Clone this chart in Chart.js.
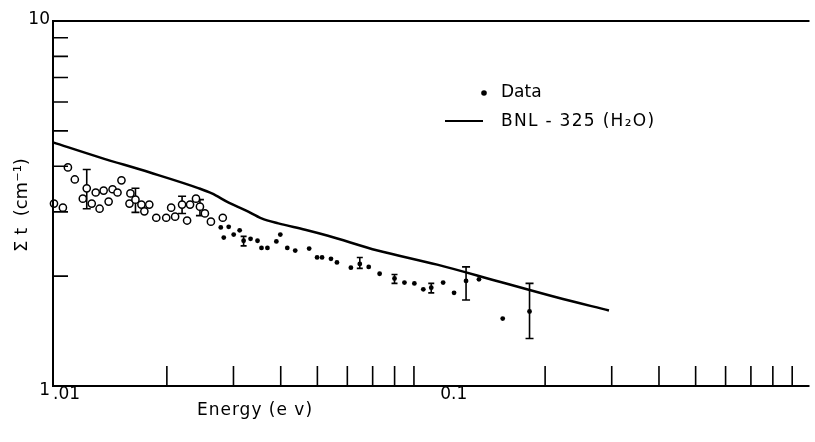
<!DOCTYPE html>
<html><head><meta charset="utf-8">
<script src="https://cdn.jsdelivr.net/npm/chart.js@4/dist/chart.umd.min.js"></script>
<style>html,body{margin:0;padding:0;background:#fff}#wrap{width:815px;height:442px;position:relative}</style>
</head><body><div id="wrap"><canvas id="c" width="815" height="442"></canvas></div>
<script>
// Hollow-circle measurements (low energy)
const openEnergy = [0.01095,0.01142,0.01228,0.01199,0.01006,0.01062,0.01266,0.01297,0.01328,0.01361,0.01403,0.01437,0.01481,0.01517,0.01602,0.01593,0.01652,0.01713,0.01744,0.01797,0.01875,0.01992,0.02103,0.02053,0.02194,0.02262,0.02303,0.02388,0.02446,0.02521,0.02615,0.02811];
const openSigma  = [3.97,3.68,3.48,3.26,3.16,3.08,3.16,3.39,3.06,3.43,3.20,3.46,3.39,3.66,3.37,3.16,3.24,3.14,3.01,3.14,2.89,2.89,2.91,3.08,3.14,2.84,3.14,3.26,3.10,2.97,2.82,2.89];
// Filled-dot measurements ("Data")
const dotEnergy = [0.02777,0.02914,0.02828,0.03004,0.03115,0.03191,0.03329,0.03473,0.03558,0.03689,0.03895,0.0399,0.04163,0.04369,0.04756,0.04991,0.05144,0.05431,0.05632,0.06131,0.06473,0.06834,0.07303,0.07996,0.08494,0.09023,0.09528,0.1,0.1075,0.1149,0.1236,0.1337,0.1545,0.1819];
const dotSigma  = [2.72,2.73,2.55,2.60,2.67,2.50,2.53,2.50,2.39,2.39,2.49,2.60,2.39,2.35,2.38,2.25,2.25,2.23,2.18,2.11,2.16,2.12,2.03,1.97,1.92,1.91,1.84,1.86,1.92,1.80,1.94,1.96,1.53,1.60];
// Error bars
const errEnergy = [0.01228,0.01652,0.02194,0.02446,0.03191,0.06473,0.07996,0.1,0.1236,0.1819];
const errLow    = [3.06,2.99,2.97,2.93,2.42,2.10,1.91,1.80,1.72,1.35];
const errHigh   = [3.92,3.48,3.31,3.24,2.57,2.25,2.02,1.91,2.12,1.91];
const errCap    = [4,4,4,4,3,3,3,3,4,4];
// BNL-325 (H2O) curve
const bnlEnergy = [0.01,0.01328,0.01797,0.02431,0.0263,0.02914,0.0323,0.03558,0.03943,0.04642,0.05333,0.07215,0.1037,0.149,0.2142,0.295];
const bnlSigma  = [4.65,4.23,3.85,3.48,3.37,3.18,3.03,2.88,2.79,2.68,2.58,2.35,2.15,1.94,1.75,1.61];
// Axis ticks
const xMinorTicks = [0.02,0.03,0.04,0.05,0.06,0.07,0.08,0.09,0.2,0.3,0.4,0.5,0.6,0.7,0.8,0.9];
const yMinorTicks = [2,3,4,5,6,7,8,9];
const xLabelValues = [0.01,0.1];
const xLabelTexts = ['.01','0.1'];
const yLabelValues = [10,1];
const yLabelTexts = ['10','1'];
const xTitle = 'Energy (e v)';
const yTitle = 'Σ t  (cm⁻¹)';
const legendDot = 'Data';
const legendLine = 'BNL - 325 (H₂O)';

const zip = (a,b) => a.map((v,i)=>({x:v,y:b[i]}));
const FONT = '"DejaVu Sans", "Liberation Sans", sans-serif';

const deco = {
  id:'deco',
  beforeDatasetsDraw(chart){
    const ctx = chart.ctx, xs = chart.scales.x, ys = chart.scales.y;
    ctx.save();
    ctx.strokeStyle = '#000'; ctx.lineWidth = 1.6;
    errEnergy.forEach((e,i)=>{
      const px = xs.getPixelForValue(e);
      const y1 = ys.getPixelForValue(errLow[i]), y2 = ys.getPixelForValue(errHigh[i]);
      const c = errCap[i];
      ctx.beginPath();
      ctx.moveTo(px,y1); ctx.lineTo(px,y2);
      ctx.moveTo(px-c,y1); ctx.lineTo(px+c,y1);
      ctx.moveTo(px-c,y2); ctx.lineTo(px+c,y2);
      ctx.stroke();
    });
    ctx.restore();
  },
  afterDraw(chart){
    const ctx = chart.ctx, xs = chart.scales.x, ys = chart.scales.y, a = chart.chartArea;
    ctx.save();
    ctx.strokeStyle = '#000'; ctx.fillStyle = '#000';
    ctx.lineWidth = 2;
    ctx.beginPath();
    ctx.moveTo(a.right, a.top); ctx.lineTo(a.left, a.top); ctx.lineTo(a.left, a.bottom); ctx.lineTo(a.right, a.bottom);
    ctx.stroke();
    ctx.lineWidth = 1.6;
    ctx.beginPath();
    yMinorTicks.forEach(v=>{ const py = ys.getPixelForValue(v); ctx.moveTo(a.left, py); ctx.lineTo(a.left+15, py); });
    xMinorTicks.forEach(v=>{ const px = xs.getPixelForValue(v); ctx.moveTo(px, a.bottom); ctx.lineTo(px, a.bottom-20); });
    ctx.stroke();
    ctx.font = '17px ' + FONT;
    ctx.textBaseline = 'middle';
    ctx.textAlign = 'left';
    xLabelValues.forEach((v,i)=>{ const px = xs.getPixelForValue(v); ctx.fillText(xLabelTexts[i], px + (i===0?0:9), a.bottom + 9); });
    ctx.textAlign = 'right';
    yLabelValues.forEach((v,i)=>{ const py = ys.getPixelForValue(v); ctx.fillText(yLabelTexts[i], a.left - 3, py + (i===0?-1:5)); });
    ctx.textAlign = 'center';
    ctx.font = '17px ' + FONT;
    ctx.letterSpacing = '1px';
    ctx.fillText(xTitle, 255, 411);
    ctx.letterSpacing = '0px';
    ctx.save();
    ctx.translate(22, 205); ctx.rotate(-Math.PI/2);
    ctx.font = '18px ' + FONT;
    ctx.fillText(yTitle, 0, 0);
    ctx.restore();
    ctx.beginPath(); ctx.arc(484, 93, 2.8, 0, Math.PI*2); ctx.fill();
    ctx.lineWidth = 2.2;
    ctx.beginPath(); ctx.moveTo(445, 121); ctx.lineTo(483, 121); ctx.stroke();
    ctx.textAlign = 'left';
    ctx.font = '17px ' + FONT;
    ctx.fillText(legendDot, 501, 93);
    ctx.letterSpacing = '1.3px';
    ctx.fillText(legendLine, 501, 122);
    ctx.letterSpacing = '0px';
    ctx.restore();
  }
};

new Chart(document.getElementById('c'), {
  type:'scatter',
  data:{ datasets:[
    { label:legendLine, type:'line', data:zip(bnlEnergy,bnlSigma), borderColor:'#000', borderWidth:2.5, pointRadius:0, cubicInterpolationMode:'monotone', fill:false, clip:false },
    { label:'open', data:zip(openEnergy,openSigma), pointStyle:'circle', pointRadius:3.6, borderWidth:1.5, borderColor:'#000', backgroundColor:'#fff', clip:false },
    { label:legendDot, data:zip(dotEnergy,dotSigma), pointStyle:'circle', pointRadius:2.4, borderWidth:0, backgroundColor:'#000', clip:false }
  ]},
  options:{
    responsive:false, animation:false, devicePixelRatio:1,
    layout:{ padding:{ left:53, top:21, right:0, bottom:56 } },
    scales:{
      x:{ type:'logarithmic', min:0.01, max:1, display:false },
      y:{ type:'logarithmic', min:1, max:10, display:false }
    },
    plugins:{ legend:{display:false}, tooltip:{enabled:false} },
    events:[]
  },
  plugins:[deco]
});
</script></body></html>
